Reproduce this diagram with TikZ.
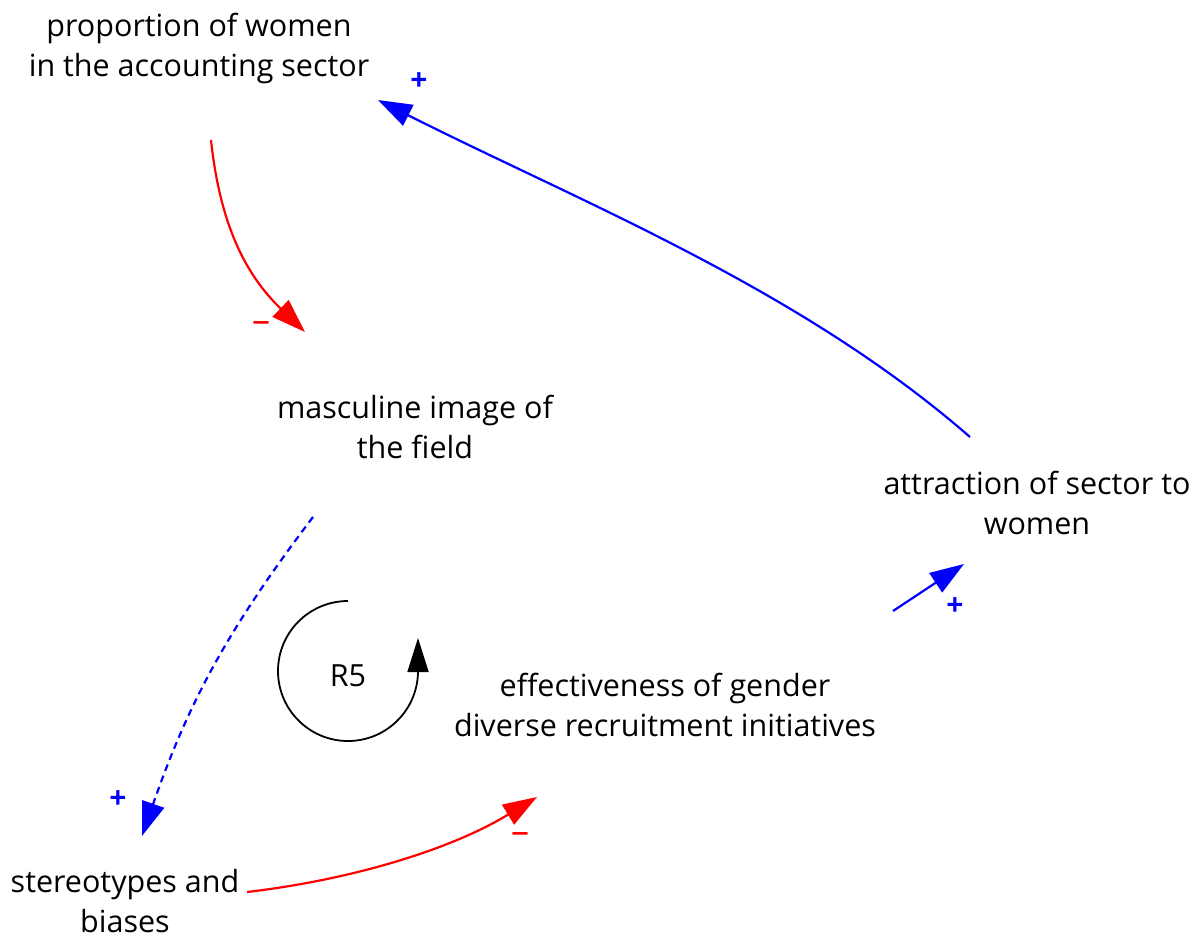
\documentclass[tikz,border=0pt]{standalone}
\usepackage{fontspec}
\setmainfont{Open Sans}
\usetikzlibrary{arrows.meta}
\begin{document}
\begin{tikzpicture}[x=1pt,y=-1pt,
  lbl/.style={align=center,font=\fontsize{30.5}{40}\selectfont,inner sep=0pt},
  poslink/.style={-{Triangle[length=34pt,width=23pt]},line width=2.2pt,blue},
  neglink/.style={-{Triangle[length=34pt,width=23pt]},line width=2.2pt,red},
  sgnp/.style={text=blue,font=\fontsize{30}{30}\selectfont\bfseries,inner sep=0pt},
  sgnn/.style={text=red,font=\fontsize{36}{36}\selectfont,inner sep=0pt}]
\useasboundingbox (0,0) rectangle (1199,936);
% variables
\node[lbl] (prop) at (199,48) {proportion of women\\in the accounting sector};
\node[lbl] (masc) at (415,427) {masculine image of\\the field};
\node[lbl] (attr) at (1037,503) {attraction of sector to\\women};
\node[lbl] (eff)  at (665,705) {effectiveness of gender\\diverse recruitment initiatives};
\node[lbl] (ster) at (125,901) {stereotypes and\\biases};
% connector end points
\coordinate (prop-out) at (211,140);
\coordinate (prop-in)  at (378,100);
\coordinate (masc-in)  at (305,332);
\coordinate (masc-out) at (313,517);
\coordinate (ster-in)  at (142,836);
\coordinate (ster-out) at (247,892);
\coordinate (eff-in)   at (537,797);
\coordinate (eff-out)  at (893,611);
\coordinate (attr-in)  at (964,564);
\coordinate (attr-out) at (970,437);
% links
\draw[neglink] (prop-out) to[bend right=20] (masc-in);
\draw[poslink,dash pattern=on 7pt off 5pt] (masc-out) to[bend right=9] (ster-in);
\draw[neglink] (ster-out) .. controls (350,880) and (450,850) .. (eff-in);
\draw[poslink] (eff-out) -- (attr-in);
\draw[poslink] (attr-out) .. controls (799,288) and (580,202) .. (prop-in);
% polarities
\node[sgnn] (s1) at (261,327) {–};
\node[sgnp] (s2) at (118,800) {+};
\node[sgnn] (s3) at (520,838) {–};
\node[sgnp] (s4) at (955,607) {+};
\node[sgnp] (s5) at (419,82) {+};
% loop marker
\node[lbl] (r5) at (348,676) {R5};
\draw[line width=1.8pt,-{Triangle[length=34pt,width=21pt]}]
  (348,601) arc[start angle=-90,end angle=-360,radius=70] -- ++(0,-33);
\end{tikzpicture}
\end{document}
